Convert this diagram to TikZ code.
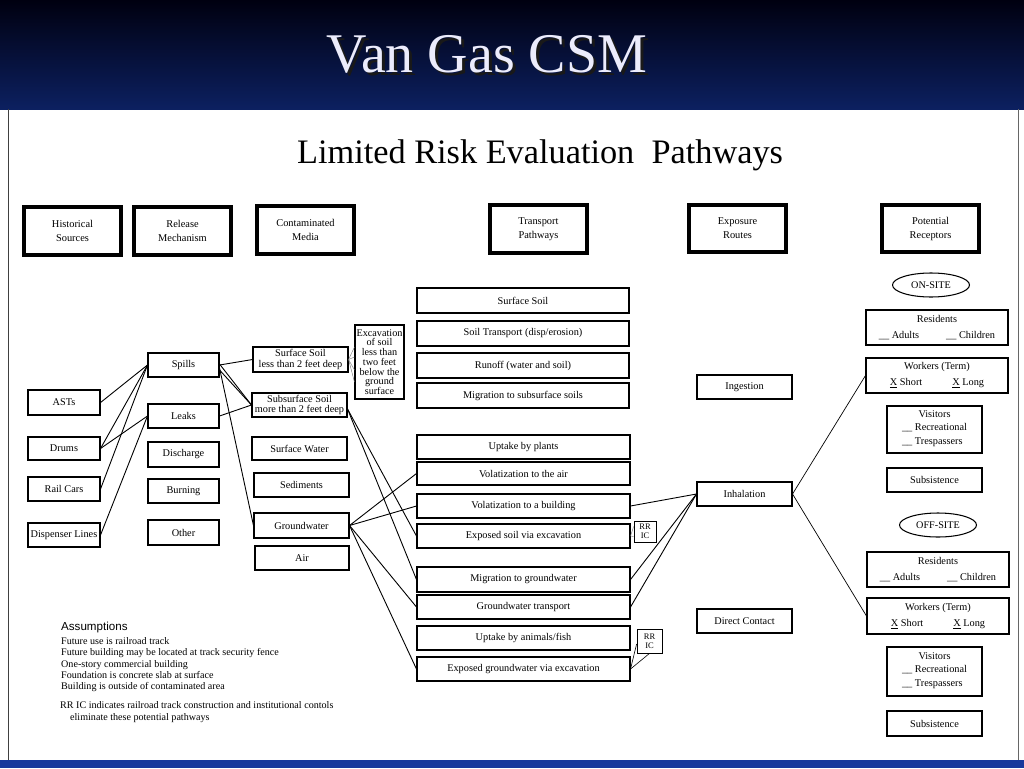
\documentclass[tikz,border=0pt]{standalone}
\usepackage{fontspec}
\setmainfont{Liberation Serif}
\newfontfamily\sansf{Liberation Sans}
\usetikzlibrary{shapes.geometric}
\definecolor{bartop}{RGB}{0,0,16}
\definecolor{barbot}{RGB}{12,32,96}
\definecolor{titlecol}{RGB}{236,236,252}
\definecolor{stripcol}{RGB}{24,56,156}
\newcommand\mybox[7][]{%
  \pgfmathsetmacro\mybw{#5-#3}%
  \pgfmathsetmacro\mybh{#6-#4}%
  \node[box,minimum width=\mybw pt,minimum height=\mybh pt,#1] (#2) at ({(#3+#5)/2},{(#4+#6)/2}) {#7};}
\begin{document}
\begin{tikzpicture}[x=1pt,y=-1pt,
  box/.style={draw, line width=1.05pt, inner sep=0pt, align=center, font=\fontsize{10.3}{12}\selectfont},
  hdr/.style={line width=3.6pt, font=\fontsize{10.4}{14}\selectfont},
  small/.style={font=\fontsize{10.3}{10.6}\selectfont},
  rcp/.style={font=\fontsize{10.3}{12}\selectfont},
  rr/.style={font=\fontsize{8.5}{8.8}\selectfont, line width=0.8pt},
  oval/.style={ellipse, inner sep=0pt, minimum width=77pt, minimum height=24pt, font=\fontsize{10.2}{12}\selectfont},
  ovalline/.style={line width=1.05pt, line join=round},
  lnk/.style={line width=0.9pt},
  faint/.style={line width=0.4pt, black!55},
]
\useasboundingbox (0,0) rectangle (1024,768);
\fill[white] (0,0) rectangle (1024,768);
% title bar
\shade[top color=bartop, bottom color=barbot] (0,0) rectangle (1024,109);
\node[anchor=base, font=\fontsize{56}{62}\selectfont, text=black!90] (tshadow) at (490,75) {Van Gas CSM};
\node[anchor=base, font=\fontsize{56}{62}\selectfont, text=titlecol] (title) at (487,72) {Van Gas CSM};
% page frame
\draw[black!75, line width=0.9pt] (8,109) -- (8,760);
\draw[black!60, line width=0.9pt] (1018,109) -- (1018,760);
\fill[stripcol] (0,760) rectangle (1024,768);
% subtitle
\node[anchor=base, font=\fontsize{34.3}{40}\selectfont] (sub) at (540,163) {Limited Risk Evaluation\ \ Pathways};

% headers
\mybox[hdr]{hs}{24}{207}{121}{255}{Historical\\Sources}
\mybox[hdr]{rm}{134}{207}{231}{255}{Release\\Mechanism}
\mybox[hdr]{cm}{257}{206}{354}{254}{Contaminated\\Media}
\mybox[hdr]{tp}{490}{205}{587}{253}{Transport\\Pathways}
\mybox[hdr]{er}{689}{205}{786}{252}{Exposure\\Routes}
\mybox[hdr]{pr}{882}{205}{979}{252}{Potential\\Receptors}

% sources
\mybox{asts}{28}{390}{100}{415}{ASTs}
\mybox{drums}{28}{437}{100}{460}{Drums}
\mybox{rail}{28}{477}{100}{501}{Rail Cars}
\mybox{disp}{28}{523}{100}{547}{Dispenser Lines}

% release
\mybox{spills}{148}{353}{219}{377}{Spills}
\mybox{leaks}{148}{404}{219}{428}{Leaks}
\mybox{disch}{148}{442}{219}{467}{Discharge}
\mybox{burn}{148}{479}{219}{503}{Burning}
\mybox{other}{148}{520}{219}{545}{Other}

% media
\mybox[small]{ssoil}{253}{347}{348}{372}{Surface Soil\\less than 2 feet deep}
\mybox[small]{subsoil}{252}{393}{347}{417}{Subsurface Soil\\more than 2 feet deep}
\mybox{swater}{252}{437}{347}{460}{Surface Water}
\mybox{sed}{254}{473}{349}{497}{Sediments}
\mybox{gw}{254}{513}{349}{538}{Groundwater}
\mybox{air}{255}{546}{349}{570}{Air}
\mybox[font=\fontsize{10.2}{9.7}\selectfont]{exc}{355}{325}{404}{399}{Excavation\\of soil\\less than\\two feet\\below the\\ground\\surface}

% transport
\mybox{t1}{417}{288}{629}{313}{Surface Soil}
\mybox{t2}{417}{321}{629}{346}{Soil Transport (disp/erosion)}
\mybox{t3}{417}{353}{629}{378}{Runoff (water and soil)}
\mybox{t4}{417}{383}{629}{408}{Migration to subsurface soils}
\mybox{t5}{417}{435}{630}{459}{Uptake by plants}
\mybox{t6}{417}{462}{630}{485}{Volatization to the air}
\mybox{t7}{417}{494}{630}{518}{Volatization to a building}
\mybox{t8}{417}{524}{630}{548}{Exposed soil via excavation}
\mybox{t9}{417}{567}{630}{592}{Migration to groundwater}
\mybox{t10}{417}{595}{630}{619}{Groundwater transport}
\mybox{t11}{417}{626}{630}{650}{Uptake by animals/fish}
\mybox{t12}{417}{657}{630}{681}{Exposed groundwater via excavation}
\mybox[rr]{rr1}{634}{521}{656}{542}{RR\\IC}
\mybox[rr]{rr2}{637}{629}{662}{653}{RR\\IC}

% exposure
\mybox{ing}{697}{375}{792}{399}{Ingestion}
\mybox{inh}{697}{482}{792}{506}{Inhalation}
\mybox{dc}{697}{609}{792}{633}{Direct Contact}

% receptors
\node[oval] (on) at (931,285) {ON-SITE};
\draw[ovalline] (on.center) ellipse [x radius=38.5pt, y radius=12pt];
\mybox[rcp]{res1}{866}{310}{1008}{345}{Residents\\[4pt]\_\_ Adults\hspace{27pt}\_\_ Children}
\mybox[rcp]{wk1}{866}{358}{1008}{393}{Workers (Term)\\[4pt]\underline{X} Short\hspace{30pt}\underline{X} Long}
\mybox[rcp]{vis1}{887}{406}{982}{453}{Visitors\\[3.5pt]\begin{tabular}{@{}l@{}}\_\_ Recreational\\[1.5pt]\_\_ Trespassers\end{tabular}}
\mybox[rcp]{sub1}{887}{468}{982}{492}{Subsistence}
\node[oval] (off) at (938,525) {OFF-SITE};
\draw[ovalline] (off.center) ellipse [x radius=38.5pt, y radius=12pt];
\mybox[rcp]{res2}{867}{552}{1009}{587}{Residents\\[4pt]\_\_ Adults\hspace{27pt}\_\_ Children}
\mybox[rcp]{wk2}{867}{598}{1009}{634}{Workers (Term)\\[4pt]\underline{X} Short\hspace{30pt}\underline{X} Long}
\mybox[rcp]{vis2}{887}{647}{982}{696}{Visitors\\[3.5pt]\begin{tabular}{@{}l@{}}\_\_ Recreational\\[1.5pt]\_\_ Trespassers\end{tabular}}
\mybox[rcp]{sub2}{887}{711}{982}{736}{Subsistence}

% connectors: sources -> release
\draw[lnk] (asts.east) -- (spills.west);
\draw[lnk] (drums.east) -- (spills.west);
\draw[lnk] (drums.east) -- (leaks.west);
\draw[lnk] (rail.east) -- (spills.west);
\draw[lnk] (disp.east) -- (leaks.west);
% release -> media
\draw[lnk] (spills.east) -- (ssoil.west);
\draw[lnk] ([yshift=1pt]spills.east) -- (subsoil.west);
\draw[lnk] ([yshift=-5pt]spills.east) -- (subsoil.west);
\draw[lnk] ([yshift=-3pt]spills.east) -- (gw.west);
\draw[lnk] (leaks.east) -- (subsoil.west);
% surface soil -> excavation
\foreach \s in {15,5,-8,-20} \draw[faint] (ssoil.east) -- ([yshift=\s pt]exc.west);
% media -> transport
\draw[lnk] ([yshift=-4pt]subsoil.east) -- (t8.west);
\draw[lnk] ([yshift=-4pt]subsoil.east) -- (t9.west);
\draw[lnk] (gw.east) -- (t6.west);
\draw[lnk] (gw.east) -- (t7.west);
\draw[lnk] (gw.east) -- (t10.west);
\draw[lnk] (gw.east) -- (t12.west);
% transport -> exposure
\draw[lnk] (t7.east) -- (inh.west);
\draw[lnk] (t9.east) -- (inh.west);
\draw[lnk] (t10.east) -- (inh.west);
% RR IC
\draw[faint] (t8.east) -- ([yshift=5pt]rr1.west);
\draw[faint] (t8.east) -- ([yshift=-5pt]rr1.west);
\draw[line width=0.6pt] (t12.east) -- ([yshift=-3pt]rr2.west);
\draw[line width=0.6pt] (t12.east) -- (rr2.south);
% exposure -> receptors
\draw[line width=0.7pt] (inh.east) -- (wk1.west);
\draw[line width=0.7pt] (inh.east) -- (wk2.west);

% assumptions
\node[anchor=base west, inner sep=0pt, font=\sansf\fontsize{11.6}{14}\selectfont] (ah) at (61,630) {Assumptions};
\node[anchor=north west, align=left, inner sep=0pt, font=\fontsize{10.1}{11.2}\selectfont] (al) at (61,637.5) {Future use is railroad track\\Future building may be located at track security fence\\One-story commercial building\\Foundation is concrete slab at surface\\Building is outside of contaminated area};
\node[anchor=north west, align=left, inner sep=0pt, font=\fontsize{10.1}{12}\selectfont] (rrn) at (60,701.5) {RR IC indicates railroad track construction and institutional contols\\\hspace{10pt}eliminate these potential pathways};
\end{tikzpicture}
\end{document}
